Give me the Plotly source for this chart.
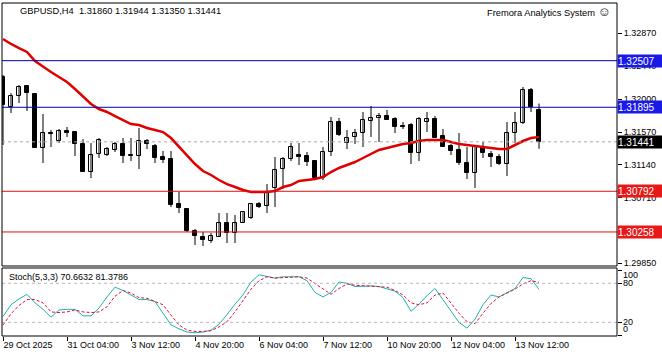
import plotly.graph_objects as go

header_text = "GBPUSD,H4  1.31860 1.31944 1.31350 1.31441"
brand_text = "Fremora Analytics System <span style='font-size:13px'>\u263A</span>"
stoch_text = "Stoch(5,3,3) 70.6632 81.3786"

opens = [1.32292, 1.31898, 1.32043, 1.32174, 1.32069, 1.31360, 1.31557, 1.31452, 1.31583, 1.31570,
         1.31413, 1.31045, 1.31281, 1.31268, 1.31334, 1.31413, 1.31268, 1.31255, 1.31452, 1.31386,
         1.31242, 1.31216, 1.30625, 1.30559, 1.30270, 1.30192, 1.30139, 1.30192, 1.30375, 1.30244,
         1.30375, 1.30441, 1.30625, 1.30599, 1.30835, 1.31084, 1.31216, 1.31268, 1.31255, 1.31189,
         1.30966, 1.31308, 1.31701, 1.31426, 1.31505, 1.31557, 1.31715, 1.31754, 1.31780, 1.31741,
         1.31649, 1.31662, 1.31294, 1.31701, 1.31741, 1.31518, 1.31386, 1.31334, 1.31163, 1.31032,
         1.31373, 1.31281, 1.31242, 1.31150, 1.31557, 1.31688, 1.32122, 1.31860]
highs = [1.32319, 1.32082, 1.32187, 1.32187, 1.32082, 1.31807, 1.31596, 1.31610, 1.31636, 1.31570,
         1.31478, 1.31426, 1.31491, 1.31373, 1.31439, 1.31491, 1.31491, 1.31623, 1.31478, 1.31413,
         1.31321, 1.31321, 1.30782, 1.30559, 1.30297, 1.30257, 1.30244, 1.30507, 1.30507, 1.30480,
         1.30533, 1.30638, 1.30651, 1.30887, 1.31242, 1.31242, 1.31426, 1.31426, 1.31308, 1.31189,
         1.31373, 1.31767, 1.31754, 1.31596, 1.31610, 1.31833, 1.31912, 1.31820, 1.31859, 1.31767,
         1.31701, 1.31688, 1.31767, 1.31833, 1.31780, 1.31610, 1.31413, 1.31557, 1.31373, 1.31373,
         1.31439, 1.31321, 1.31281, 1.31701, 1.31833, 1.32161, 1.32148, 1.31944]
lows = [1.31400, 1.31820, 1.31951, 1.31846, 1.31360, 1.31163, 1.31373, 1.31426, 1.31505, 1.31255,
        1.31045, 1.30966, 1.31229, 1.31255, 1.31308, 1.31163, 1.31189, 1.31084, 1.31347, 1.31163,
        1.31163, 1.30585, 1.30507, 1.30257, 1.30087, 1.30074, 1.30113, 1.30192, 1.30113, 1.30113,
        1.30375, 1.30428, 1.30572, 1.30507, 1.30585, 1.30822, 1.31189, 1.31137, 1.31124, 1.30953,
        1.30940, 1.31255, 1.31518, 1.31347, 1.31413, 1.31373, 1.31505, 1.31439, 1.31728, 1.31557,
        1.31610, 1.31150, 1.31189, 1.31570, 1.31491, 1.31373, 1.31268, 1.31137, 1.30953, 1.30835,
        1.31229, 1.31111, 1.31137, 1.30992, 1.31426, 1.31675, 1.31833, 1.31350]
closes = [1.31925, 1.32043, 1.32161, 1.32082, 1.31360, 1.31557, 1.31544, 1.31583, 1.31557, 1.31413,
          1.31045, 1.31268, 1.31465, 1.31347, 1.31413, 1.31255, 1.31255, 1.31452, 1.31413, 1.31229,
          1.31203, 1.30612, 1.30572, 1.30270, 1.30205, 1.30152, 1.30205, 1.30375, 1.30244, 1.30375,
          1.30520, 1.30625, 1.30585, 1.30769, 1.31071, 1.31216, 1.31373, 1.31242, 1.31176, 1.30966,
          1.31308, 1.31701, 1.31531, 1.31491, 1.31557, 1.31728, 1.31754, 1.31780, 1.31728, 1.31636,
          1.31636, 1.31294, 1.31741, 1.31741, 1.31491, 1.31373, 1.31321, 1.31163, 1.31032, 1.31373,
          1.31294, 1.31242, 1.31150, 1.31557, 1.31688, 1.32122, 1.31898, 1.31441]
ma_values = [1.32791, 1.32726, 1.32673, 1.32621, 1.32502, 1.32424, 1.32358, 1.32292, 1.32227, 1.32135,
             1.32043, 1.31938, 1.31872, 1.31833, 1.31780, 1.31728, 1.31675, 1.31662, 1.31623, 1.31596,
             1.31570, 1.31491, 1.31373, 1.31255, 1.31150, 1.31058, 1.31006, 1.30940, 1.30887, 1.30848,
             1.30809, 1.30782, 1.30782, 1.30782, 1.30795, 1.30848, 1.30874, 1.30927, 1.30940, 1.30953,
             1.30979, 1.31045, 1.31098, 1.31137, 1.31176, 1.31229, 1.31281, 1.31334, 1.31360, 1.31386,
             1.31413, 1.31426, 1.31452, 1.31465, 1.31465, 1.31465, 1.31439, 1.31413, 1.31400, 1.31386,
             1.31373, 1.31360, 1.31347, 1.31347, 1.31400, 1.31452, 1.31491, 1.31505]
stoch_k = [29, 47, 56, 63, 50, 40, 28, 39, 40, 40,
           30, 30, 42, 59, 74, 69, 62, 55, 55, 52,
           34, 16, 10, 5, 4, 5, 8, 17, 32, 48,
           62, 82, 93, 91, 88, 90, 90, 90, 84, 66,
           59, 66, 82, 80, 75, 76, 76, 75, 71, 68,
           58, 37, 48, 61, 72, 54, 37, 20, 11, 25,
           47, 62, 59, 65, 72, 89, 87, 70.6632]
stoch_d = [16, 33, 46, 55, 55, 50, 36, 35, 36, 39,
           36, 35, 36, 44, 60, 69, 65, 58, 57, 52,
           47, 31, 16, 8, 6, 6, 7, 13, 21, 36,
           54, 71, 84, 90, 88, 89, 90, 90, 88, 80,
           71, 63, 72, 79, 77, 76, 75, 75, 74, 69,
           62, 50, 47, 50, 62, 65, 49, 34, 21, 18,
           34, 49, 59, 65, 71, 79, 84, 81.3786]

time_tick_index = [0, 8, 16, 24, 32, 40, 48, 56, 64]
time_tick_labels = ["29 Oct 2025", "31 Oct 04:00", "3 Nov 12:00", "4 Nov 20:00", "6 Nov 04:00",
                    "7 Nov 12:00", "10 Nov 20:00", "12 Nov 04:00", "13 Nov 12:00"]
price_ticks = [1.32870, 1.32440, 1.32000, 1.31570, 1.31140, 1.30710, 1.30280, 1.29850]
blue_levels = [1.32507, 1.31895]
red_levels = [1.30792, 1.30258]
last_price = 1.31441
stoch_levels = [20, 80]
stoch_tick_values = [100, 80, 20, 0]

FONT = "Liberation Sans, Arial, sans-serif"
idx = list(range(len(opens)))
bull = [i for i in idx if closes[i] >= opens[i]]
bear = [i for i in idx if closes[i] < opens[i]]

fig = go.Figure()

wx, wy = [], []
for i in idx:
    wx += [i, i, None]
    wy += [lows[i], highs[i], None]
fig.add_trace(go.Scatter(x=wx, y=wy, mode="lines", line=dict(color="black", width=1),
                         hoverinfo="skip", xaxis="x", yaxis="y"))
fig.add_trace(go.Bar(x=bull, base=[opens[i] for i in bull],
                     y=[closes[i] - opens[i] for i in bull], width=0.6,
                     marker=dict(color="white", line=dict(color="black", width=1)),
                     xaxis="x", yaxis="y"))
fig.add_trace(go.Bar(x=bear, base=[closes[i] for i in bear],
                     y=[opens[i] - closes[i] for i in bear], width=0.6,
                     marker=dict(color="black", line=dict(color="black", width=1)),
                     xaxis="x", yaxis="y"))
fig.add_trace(go.Scatter(x=idx, y=ma_values, mode="lines",
                         line=dict(color="#E00000", width=2.5), xaxis="x", yaxis="y"))

fig.add_trace(go.Scatter(x=idx, y=stoch_k, mode="lines",
                         line=dict(color="#20B2AA", width=1), xaxis="x", yaxis="y2"))
fig.add_trace(go.Scatter(x=idx, y=stoch_d, mode="lines",
                         line=dict(color="#E0103A", width=1, dash="3px,2px"), xaxis="x", yaxis="y2"))

shapes = []
for lv in blue_levels:
    shapes.append(dict(type="line", xref="paper", x0=0, x1=1, yref="y", y0=lv, y1=lv,
                       line=dict(color="#0000B4", width=1)))
for lv in red_levels:
    shapes.append(dict(type="line", xref="paper", x0=0, x1=1, yref="y", y0=lv, y1=lv,
                       line=dict(color="#E01010", width=1)))
shapes.append(dict(type="line", xref="paper", x0=0, x1=1, yref="y", y0=last_price, y1=last_price,
                   line=dict(color="#A8A8A8", width=1, dash="dot")))
for lv in stoch_levels:
    shapes.append(dict(type="line", xref="paper", x0=0, x1=1, yref="y2", y0=lv, y1=lv,
                       line=dict(color="#B8B8B8", width=1, dash="dot")))
shapes.append(dict(type="rect", xref="paper", x0=0, x1=1, yref="y domain", y0=0, y1=1,
                   line=dict(color="black", width=1)))
shapes.append(dict(type="rect", xref="paper", x0=0, x1=1, yref="y2 domain", y0=0, y1=1,
                   line=dict(color="black", width=1)))

annotations = []
def price_box(val, bg):
    annotations.append(dict(xref="paper", x=1, xanchor="left", xshift=0, yref="y", y=val,
                            yanchor="middle", text=f"{val:.5f}", showarrow=False,
                            bgcolor=bg, font=dict(family=FONT, size=10, color="white"),
                            width=44, height=12, borderpad=0, align="left"))
for lv in blue_levels:
    price_box(lv, "#1A1AE6")
for lv in red_levels:
    price_box(lv, "#E81818")
price_box(last_price, "#000000")

annotations.append(dict(xref="paper", x=0, xanchor="left", xshift=16, yref="paper", y=1,
                        yanchor="middle", yshift=-8, text=header_text, showarrow=False,
                        font=dict(family=FONT, size=9.3, color="black")))
annotations.append(dict(xref="paper", x=1, xanchor="right", xshift=-4, yref="paper", y=1,
                        yanchor="middle", yshift=-8, text=brand_text, showarrow=False,
                        font=dict(family=FONT, size=9.3, color="black")))
annotations.append(dict(xref="paper", x=0, xanchor="left", xshift=5, yref="y2 domain", y=1,
                        yanchor="middle", yshift=-9, text=stoch_text, showarrow=False,
                        font=dict(family=FONT, size=9, color="black")))
stoch_label_shift = {100: -5, 80: 0, 20: 0, 0: 6}
for v in stoch_tick_values:
    annotations.append(dict(xref="paper", x=1, xanchor="left", xshift=4, yref="y2", y=v,
                            yanchor="middle", yshift=stoch_label_shift[v], text=str(v),
                            showarrow=False, font=dict(family=FONT, size=9, color="black")))

fig.update_layout(
    width=662, height=357,
    margin=dict(l=2, r=45, t=3, b=21),
    paper_bgcolor="white", plot_bgcolor="white",
    showlegend=False, barmode="overlay", bargap=0,
    shapes=shapes, annotations=annotations,
    xaxis=dict(domain=[0, 1], range=[-0.125, 76.75], anchor="y2",
               tickmode="array", tickvals=time_tick_index, ticktext=time_tick_labels,
               ticks="outside", ticklen=4, tickcolor="black", ticklabelposition="outside right",
               showgrid=False, zeroline=False, showline=False,
               tickfont=dict(family=FONT, size=9, color="black")),
    yaxis=dict(domain=[0.2102, 1], range=[1.29811, 1.33264], side="right", anchor="x",
               tickmode="array", tickvals=price_ticks, ticktext=[f"{p:.5f}" for p in price_ticks],
               ticks="outside", ticklen=4, tickcolor="black",
               showgrid=False, zeroline=False, showline=False,
               tickfont=dict(family=FONT, size=9, color="black")),
    yaxis2=dict(domain=[0, 0.2042], range=[-1, 103.5], side="right", anchor="x",
                tickmode="array", tickvals=stoch_tick_values,
                ticktext=["" for _ in stoch_tick_values],
                ticks="outside", ticklen=4, tickcolor="black",
                showgrid=False, zeroline=False, showline=False),
)

fig.write_html("out.html", config={"displayModeBar": False},
               post_script="document.body.style.margin='0';document.body.style.padding='0';")
